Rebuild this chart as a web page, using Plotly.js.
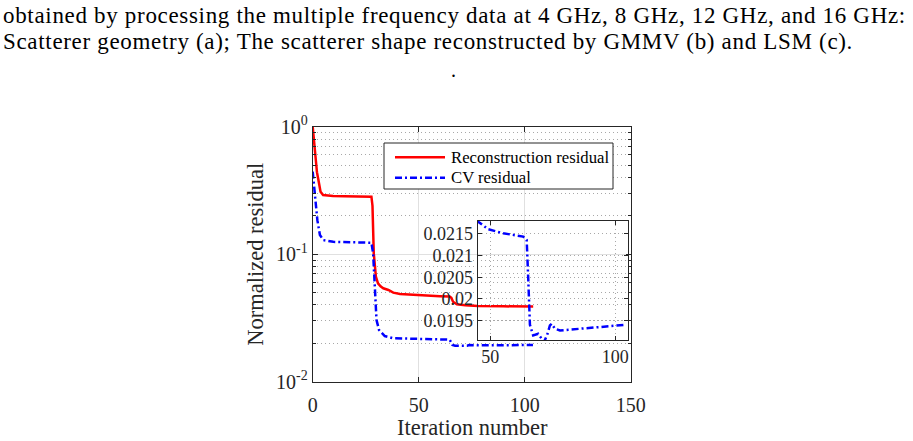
<!DOCTYPE html>
<html>
<head>
<meta charset="utf-8">
<script src="https://cdn.plot.ly/plotly-3.0.1.min.js"></script>
<style>
  html, body { margin: 0; padding: 0; background: #ffffff; }
  #chart { width: 913px; height: 441px; }
  /* caption lines are set a little looser than the chart text */
  #chart g.annotation[data-index="2"] text,
  #chart g.annotation[data-index="3"] text { letter-spacing: 0.68px; }
</style>
</head>
<body>
<div id="chart"></div>
<script>
// Iteration history of the two residuals
const iterRec = [0, 1, 2, 2.7, 3.7, 4.9, 7, 9.6, 15, 20, 27.7, 28.2, 28.8, 29.8, 30.8, 32, 33.3, 35.7, 38, 41.2, 45, 49, 55, 60, 64.6, 65.4, 66.2, 68, 72, 78, 90, 104];
const recResidual = [1.0, 0.65, 0.44, 0.382, 0.309, 0.291, 0.288, 0.286, 0.285, 0.284, 0.2825, 0.24, 0.1016, 0.0667, 0.0591, 0.056, 0.054, 0.0524, 0.0499, 0.0487, 0.0482, 0.0478, 0.0472, 0.0468, 0.0465, 0.0455, 0.0424, 0.0405, 0.0398, 0.0393, 0.039, 0.0388];

const iterCv = [0, 1.1, 2.2, 3.4, 5, 9.7, 20, 27.7, 28.5, 29.3, 30.1, 31.3, 34, 38, 42, 44.8, 49.2, 55.2, 63.2, 64.6, 65.2, 65.9, 67.2, 69.2, 70.6, 71.5, 72.8, 73.9, 74.6, 75.9, 77.9, 81.9, 88.6, 95.2, 103.9];
const cvResidual = [0.444, 0.282, 0.185, 0.1415, 0.129, 0.125, 0.1235, 0.123, 0.1016, 0.0556, 0.0305, 0.0254, 0.0228, 0.0219, 0.02185, 0.0218, 0.02161, 0.021516, 0.02144, 0.02136, 0.0205, 0.0194, 0.019155, 0.019193, 0.01908, 0.01900, 0.01917, 0.019386, 0.019425, 0.01931, 0.01927, 0.01929, 0.01932, 0.01937, 0.0194];

const seriesNames = ['Reconstruction residual', 'CV residual'];

// Axis tick labels
const mainXTicks = [0, 50, 100, 150];
const mainYTicks = [0.01, 0.1, 1];
const mainYTickText = ['10<sup>-2</sup>', '10<sup>-1</sup>', '10<sup>0</sup>'];
const mainYMinor = [0.02, 0.03, 0.04, 0.05, 0.06, 0.07, 0.08, 0.09, 0.2, 0.3, 0.4, 0.5, 0.6, 0.7, 0.8, 0.9];
const insetXTicks = [50, 100];
const insetYTicks = [0.0195, 0.02, 0.0205, 0.021, 0.0215];
const insetYTickText = ['0.0195', '0.02', '0.0205', '0.021', '0.0215'];

const captionLines = [
  'obtained by processing the multiple frequency data at 4 GHz, 8 GHz, 12 GHz, and 16 GHz:',
  'Scatterer geometry (a); The scatterer shape reconstructed by GMMV (b) and LSM (c).'
];

const serif = 'Liberation Serif, Times New Roman, serif';
const axisInk = '#262626';
const recColor = '#ff0000';
const cvColor = '#0000ff';
const cvDash = '7px,3px,2px,3px';
const W = 913, H = 441;
const px = v => v / W;
const py = v => 1 - v / H;

const traces = [
  {
    x: iterRec, y: recResidual, name: seriesNames[0],
    type: 'scatter', mode: 'lines', xaxis: 'x', yaxis: 'y',
    line: { color: recColor, width: 2.5 }
  },
  {
    x: iterCv, y: cvResidual, name: seriesNames[1],
    type: 'scatter', mode: 'lines', xaxis: 'x', yaxis: 'y',
    line: { color: cvColor, width: 2.5, dash: cvDash }
  },
  {
    x: iterCv, y: cvResidual, name: seriesNames[1],
    type: 'scatter', mode: 'lines', xaxis: 'x2', yaxis: 'y2',
    line: { color: cvColor, width: 2.5, dash: cvDash }
  }
];

const frame = {
  showline: true, linecolor: axisInk, linewidth: 1, mirror: 'ticks',
  ticks: 'inside', tickcolor: axisInk, zeroline: false
};
const majorGrid = '#e0e0e0';
const minorGrid = '#a8a8a8';
const dotDash = '1px,3px';

// Legend box drawn as a framed panel with line samples
const legendShapes = [
  { type: 'rect', xref: 'paper', yref: 'paper', x0: px(384), x1: px(613), y0: py(189), y1: py(143),
    line: { color: axisInk, width: 1 }, fillcolor: '#ffffff', layer: 'above' },
  { type: 'line', xref: 'paper', yref: 'paper', x0: px(395), x1: px(445), y0: py(157.3), y1: py(157.3),
    line: { color: recColor, width: 2.5 }, layer: 'above' },
  { type: 'line', xref: 'paper', yref: 'paper', x0: px(395), x1: px(445), y0: py(177.7), y1: py(177.7),
    line: { color: cvColor, width: 2.5, dash: cvDash }, layer: 'above' }
];

const layout = {
  width: W, height: H,
  margin: { l: 0, r: 0, t: 0, b: 0 },
  paper_bgcolor: '#ffffff',
  plot_bgcolor: 'rgba(0,0,0,0)',
  font: { family: serif, color: axisInk },
  showlegend: false,
  xaxis: Object.assign({}, frame, {
    domain: [0.3425, 0.6908], range: [0, 150], anchor: 'y',
    tickvals: mainXTicks, ticklen: 5, ticklabelstandoff: 5,
    showgrid: true, gridcolor: majorGrid, gridwidth: 1,
    tickfont: { family: serif, size: 20, color: axisInk }
  }),
  yaxis: Object.assign({}, frame, {
    type: 'log', domain: [0.1345, 0.7127], range: [-2, 0], anchor: 'x',
    tickvals: mainYTicks, ticktext: mainYTickText, ticklen: 5,
    showgrid: true, gridcolor: majorGrid, gridwidth: 1,
    minor: {
      tickvals: mainYMinor, ticks: 'inside', ticklen: 3, tickcolor: axisInk,
      showgrid: true, gridcolor: minorGrid, griddash: dotDash, gridwidth: 1
    },
    tickfont: { family: serif, size: 20, color: axisInk },
    title: { text: 'Normalized residual', font: { family: serif, size: 22.5, color: axisInk }, standoff: 6 }
  }),
  xaxis2: Object.assign({}, frame, {
    domain: [0.5232, 0.6875], range: [45, 105], anchor: 'y2',
    tickvals: insetXTicks, ticklen: 4,
    showgrid: true, gridcolor: minorGrid, griddash: dotDash,
    tickfont: { family: serif, size: 18, color: axisInk }
  }),
  yaxis2: Object.assign({}, frame, {
    domain: [0.229, 0.4989], range: [0.01905, 0.0218], anchor: 'x2',
    tickvals: insetYTicks, ticktext: insetYTickText, ticklen: 4,
    showgrid: true, gridcolor: minorGrid, griddash: dotDash,
    tickfont: { family: serif, size: 18, color: axisInk }
  }),
  shapes: legendShapes,
  annotations: [
    {
      xref: 'paper', yref: 'paper', x: px(449), y: py(157.3),
      xanchor: 'left', yanchor: 'middle', showarrow: false,
      text: seriesNames[0], font: { family: serif, size: 16.7, color: '#000000' }
    },
    {
      xref: 'paper', yref: 'paper', x: px(449), y: py(177.7),
      xanchor: 'left', yanchor: 'middle', showarrow: false,
      text: seriesNames[1], font: { family: serif, size: 16.7, color: '#000000' }
    },
    {
      xref: 'paper', yref: 'paper', x: px(1), y: py(16),
      xanchor: 'left', yanchor: 'middle', align: 'left', showarrow: false,
      text: captionLines[0],
      font: { family: serif, size: 23, color: '#000000' }
    },
    {
      xref: 'paper', yref: 'paper', x: px(1), y: py(41.5),
      xanchor: 'left', yanchor: 'middle', align: 'left', showarrow: false,
      text: captionLines[1],
      font: { family: serif, size: 23, color: '#000000' }
    },
    {
      xref: 'paper', yref: 'paper', x: px(453), y: py(70),
      xanchor: 'center', yanchor: 'middle', showarrow: false,
      text: '.', font: { family: serif, size: 20, color: '#000000' }
    },
    {
      // x-axis title of the main panel
      xref: 'paper', yref: 'paper', x: px(472), y: py(427),
      xanchor: 'center', yanchor: 'middle', showarrow: false,
      text: 'Iteration number', font: { family: serif, size: 22.5, color: axisInk }
    }
  ]
};

Plotly.newPlot('chart', traces, layout, { displayModeBar: false, staticPlot: true });
</script>
</body>
</html>
